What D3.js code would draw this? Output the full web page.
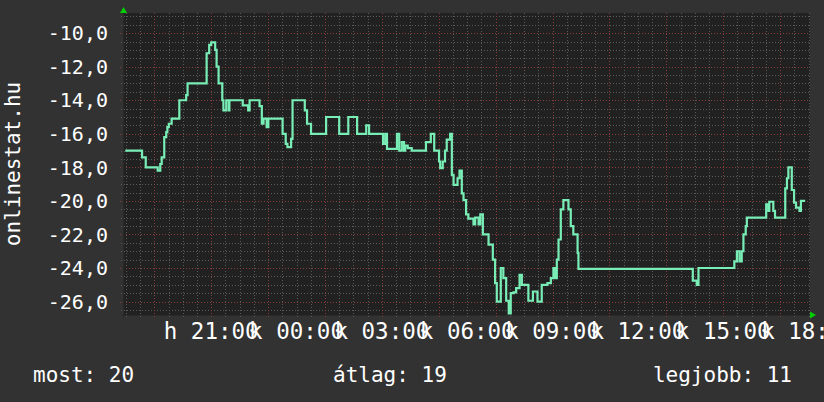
<!DOCTYPE html>
<html>
<head>
<meta charset="utf-8">
<script src="https://cdn.jsdelivr.net/npm/d3@7/dist/d3.min.js"></script>
<style>
  body { margin: 0; background: #323232; }
  svg { display: block; }
</style>
</head>
<body>
<div id="chart"></div>
<script>
// hours since Monday 00:00 (24 = Tuesday 00:00)
var times = [17.98, 18.57, 18.70, 19.12, 19.21, 19.26, 19.35, 19.42, 19.46, 19.51, 19.61, 19.88, 20.12, 20.17,
  20.84, 20.93, 21.00, 21.14, 21.19, 21.26, 21.39, 21.43, 21.53, 21.62, 21.64, 22.11, 22.30, 22.35, 22.70,
  22.78, 22.84, 22.95, 23.01, 23.51, 23.62, 23.68, 23.81, 23.86, 24.29, 24.37, 24.51, 25.04, 25.50, 25.82,
  26.13, 26.45, 26.55, 27.04, 27.12, 27.18, 27.53, 27.61, 27.70, 27.78, 27.82, 27.91, 28.05, 28.55, 28.72,
  28.84, 29.01, 29.05, 29.14, 29.22, 29.28, 29.40, 29.46, 29.52, 29.66, 29.73, 29.81, 29.87, 29.96, 30.04,
  30.22, 30.28, 30.40, 30.46, 30.55, 30.75, 30.90, 30.98, 31.04, 31.18, 31.27, 31.37, 31.46, 31.53, 31.63,
  31.72, 31.84, 31.92, 32.15, 32.31, 32.47, 32.62, 32.82, 32.94, 33.03, 33.09, 33.15, 33.21, 33.29, 33.38,
  33.56, 33.64, 33.73, 33.88, 33.91, 37.93, 38.07, 38.13, 39.39, 39.48, 39.57, 39.65, 39.71, 39.79, 39.83,
  40.51, 40.59, 40.62, 40.76, 40.82, 41.18, 41.24, 41.29, 41.41, 41.49, 41.56, 41.68, 41.73, 41.88];
var values = [-17.0, -17.4, -18.0, -18.2, -17.8, -17.4, -16.2, -15.9, -15.6, -15.4, -15.1, -14.0, -13.7, -13.0,
  -11.2, -10.7, -10.55, -11.0, -12.0, -13.0, -14.0, -14.6, -14.0, -14.6, -14.0, -14.3, -14.6, -14.0, -14.35,
  -15.4, -15.1, -15.6, -15.1, -16.0, -16.6, -16.8, -16.3, -14.0, -14.6, -15.4, -16.0, -15.0, -16.0, -15.0,
  -16.0, -15.5, -16.0, -16.6, -16.0, -16.9, -16.0, -17.0, -16.5, -17.0, -16.7, -16.85, -17.0, -16.5, -16.0,
  -17.0, -17.65, -18.05, -17.65, -17.0, -16.35, -16.0, -18.45, -19.05, -18.65, -18.2, -19.55, -19.95, -20.8, -21.05,
  -21.4, -21.0, -21.4, -20.8, -22.0, -22.6, -23.5, -24.9, -26.0, -24.0, -24.6, -25.95, -26.7, -25.5, -25.45,
  -25.2, -24.4, -25.0, -25.95, -25.4, -26.0, -25.0, -24.9, -24.6, -24.0, -24.6, -23.5, -22.3, -20.5, -19.95,
  -20.5, -21.5, -22.0, -23.1, -24.05, -24.75, -25.0, -24.0, -23.6, -23.0, -23.6, -23.0, -22.0, -21.5, -21.0,
  -20.2, -20.6, -20.05, -20.6, -21.0, -19.25, -18.65, -18.0, -19.35, -20.1, -20.4, -20.6, -20.0, -20.0];

var timeDomain = [17.90, 42.05];
var valueDomain = [-26.8, -8.8];
var yTicks = [-10, -12, -14, -16, -18, -20, -22, -24, -26];
var yTickLabels = ["-10,0", "-12,0", "-14,0", "-16,0", "-18,0", "-20,0", "-22,0", "-24,0", "-26,0"];
var xTicks = [21, 24, 27, 30, 33, 36, 39, 42];
var xTickLabels = ["h 21:00", "k 00:00", "k 03:00", "k 06:00", "k 09:00", "k 12:00", "k 15:00", "k 18:00"];
var yTitle = "onlinestat.hu";
var statLabels = ["most: 20", "átlag: 19", "legjobb: 11"];

var W = 824, H = 402;
var plot = { left: 123, right: 810, top: 13, bottom: 315 };
var mono = "'DejaVu Sans Mono', monospace";

var svg = d3.select("#chart").append("svg")
    .attr("width", W)
    .attr("height", H);

svg.append("rect")
    .attr("width", W).attr("height", H)
    .attr("fill", "#323232");

var x = d3.scaleLinear().domain(timeDomain).range([plot.left, plot.right]);
var y = d3.scaleLinear().domain(valueDomain).range([plot.bottom, plot.top]);

// canvas
svg.append("rect")
    .attr("x", plot.left).attr("y", plot.top)
    .attr("width", plot.right - plot.left)
    .attr("height", plot.bottom - plot.top)
    .attr("fill", "#212121");

var grid = svg.append("g").attr("shape-rendering", "crispEdges");

// minor grid, every half hour / half unit
var minorX = d3.range(18, 42.01, 0.5).filter(d => d % 2 !== 1);
var minorY = d3.range(-26.5, -8.9, 0.5).filter(d => d % 2 !== 0);
var majorX = d3.range(19, 42, 2);

grid.selectAll(".minor-x").data(minorX).enter().append("line")
    .attr("x1", d => Math.round(x(d)) + 0.5).attr("x2", d => Math.round(x(d)) + 0.5)
    .attr("y1", plot.top).attr("y2", plot.bottom + 3)
    .attr("stroke", "#5a5a5a").attr("stroke-dasharray", "1,2");

grid.selectAll(".minor-y").data(minorY).enter().append("line")
    .attr("x1", plot.left - 2).attr("x2", plot.right)
    .attr("y1", d => Math.round(y(d)) + 0.5).attr("y2", d => Math.round(y(d)) + 0.5)
    .attr("stroke", "#5a5a5a").attr("stroke-dasharray", "1,2");

grid.selectAll(".major-x").data(majorX).enter().append("line")
    .attr("x1", d => Math.round(x(d)) + 0.5).attr("x2", d => Math.round(x(d)) + 0.5)
    .attr("y1", plot.top).attr("y2", plot.bottom + 4)
    .attr("stroke", "#8a3c3c").attr("stroke-dasharray", "1,2");

grid.selectAll(".major-y").data(yTicks).enter().append("line")
    .attr("x1", plot.left - 3).attr("x2", plot.right)
    .attr("y1", d => Math.round(y(d)) + 0.5).attr("y2", d => Math.round(y(d)) + 0.5)
    .attr("stroke", "#8a3c3c").attr("stroke-dasharray", "1,2");

// axes
grid.append("line")
    .attr("x1", plot.left - 2).attr("x2", plot.right + 2)
    .attr("y1", plot.bottom + 0.5).attr("y2", plot.bottom + 0.5)
    .attr("stroke", "#2a2a2a");
grid.append("line")
    .attr("x1", plot.left + 0.5).attr("x2", plot.left + 0.5)
    .attr("y1", plot.top).attr("y2", plot.bottom + 3)
    .attr("stroke", "#2a2a2a");

// arrows
svg.append("path")
    .attr("d", "M" + (plot.left - 3) + "," + plot.top + "L" + (plot.left + 4) + "," + plot.top +
        "L" + (plot.left + 0.5) + "," + (plot.top - 6) + "Z")
    .attr("fill", "#00d000");
svg.append("path")
    .attr("d", "M" + plot.right + "," + (plot.bottom - 3.5) + "L" + plot.right + "," + (plot.bottom + 3.5) +
        "L" + (plot.right + 6) + "," + plot.bottom + "Z")
    .attr("fill", "#00d000");

// data line
var pts = times.map((t, i) => [t, values[i]]);
var line = d3.line()
    .x(d => x(d[0]))
    .y(d => y(d[1]))
    .curve(d3.curveStepAfter);

svg.append("path")
    .datum(pts)
    .attr("d", line)
    .attr("fill", "none")
    .attr("stroke", "#78eeb6")
    .attr("stroke-width", 2.2)
    .attr("stroke-linejoin", "miter");

// y labels
svg.append("g").selectAll("text").data(yTicks).enter().append("text")
    .attr("x", 108)
    .attr("y", d => y(d))
    .attr("dy", "0.36em")
    .attr("text-anchor", "end")
    .attr("font-family", mono)
    .attr("font-size", 20)
    .attr("fill", "#ffffff")
    .text((d, i) => yTickLabels[i]);

// x labels
svg.append("g").selectAll("text").data(xTicks).enter().append("text")
    .attr("x", d => x(d))
    .attr("y", 339)
    .attr("text-anchor", "middle")
    .attr("font-family", mono)
    .attr("font-size", 22.5)
    .attr("fill", "#ffffff")
    .text((d, i) => xTickLabels[i]);

// y title
svg.append("text")
    .attr("transform", "translate(20," + ((plot.top + plot.bottom) / 2) + ") rotate(-90)")
    .attr("text-anchor", "middle")
    .attr("font-family", mono)
    .attr("font-size", 21)
    .attr("fill", "#ffffff")
    .text(yTitle);

// bottom stats
var statX = [33, 333, 792];
var statAnchor = ["start", "start", "end"];
svg.append("g").selectAll("text").data(statLabels).enter().append("text")
    .attr("x", (d, i) => statX[i])
    .attr("y", 382)
    .attr("text-anchor", (d, i) => statAnchor[i])
    .attr("font-family", mono)
    .attr("font-size", 21)
    .attr("fill", "#ffffff")
    .text(d => d);
</script>
</body>
</html>
